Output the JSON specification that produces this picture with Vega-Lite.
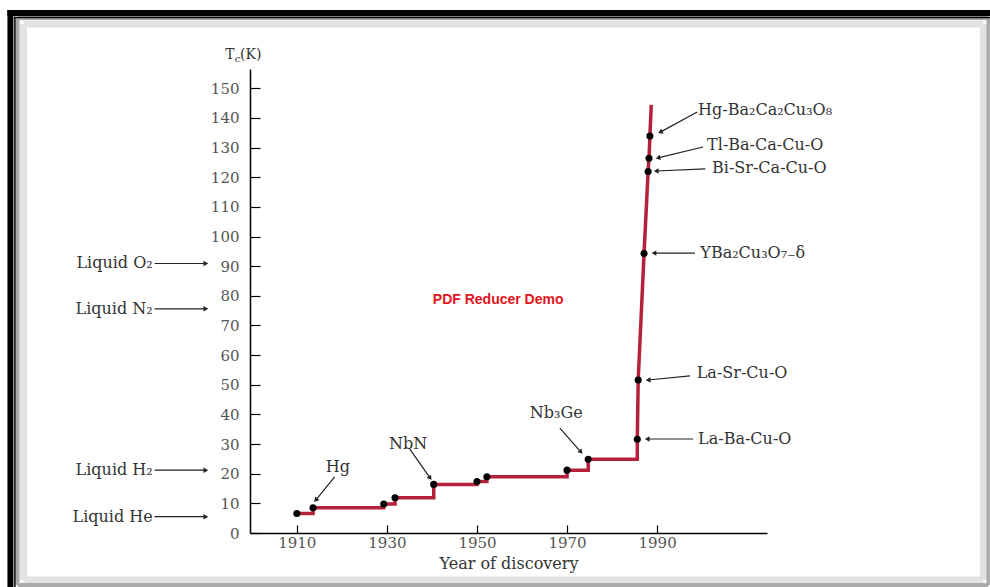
{
  "$schema": "https://vega.github.io/schema/vega-lite/v6.json",
  "width": 517,
  "height": 464,
  "autosize": {"type": "none"},
  "padding": {"left": 250, "top": 69, "right": 223, "bottom": 54},
  "background": "white",
  "config": {"view": {"stroke": null}, "font": "DejaVu Serif"},
  "datasets": {
    "tc": [
      {"x": 1910.0, "y": 6.6, "dot": true},
      {"x": 1913.6, "y": 8.5, "dot": true},
      {"x": 1929.3, "y": 9.8, "dot": true},
      {"x": 1931.8, "y": 11.9, "dot": true},
      {"x": 1940.4, "y": 16.4, "dot": true},
      {"x": 1950.0, "y": 17.4, "dot": true},
      {"x": 1952.2, "y": 19.0, "dot": true},
      {"x": 1970.0, "y": 21.2, "dot": true},
      {"x": 1974.7, "y": 24.9, "dot": true},
      {"x": 1985.6, "y": 31.6, "dot": true},
      {"x": 1985.8, "y": 51.6, "dot": true},
      {"x": 1987.1, "y": 94.3, "dot": true},
      {"x": 1988.0, "y": 121.9, "dot": true},
      {"x": 1988.2, "y": 126.4, "dot": true},
      {"x": 1988.4, "y": 133.9, "dot": true},
      {"x": 1988.7, "y": 144.4, "dot": false}
    ],
    "arrows": [
      {"x": 1914.2, "y": 11.1, "x2": 1918.4, "y2": 18.9, "ang": 219},
      {"x": 1939.6, "y": 18.5, "x2": 1935.1, "y2": 28.3, "ang": 145},
      {"x": 1973.1, "y": 27.3, "x2": 1968.4, "y2": 35.4, "ang": 139},
      {"x": 1987.8, "y": 31.7, "x2": 1998.0, "y2": 31.7, "ang": 270},
      {"x": 1988.0, "y": 51.6, "x2": 1997.3, "y2": 53.0, "ang": 265},
      {"x": 1989.3, "y": 94.4, "x2": 1998.4, "y2": 94.4, "ang": 270},
      {"x": 1989.8, "y": 122.1, "x2": 2000.7, "y2": 122.8, "ang": 268},
      {"x": 1990.2, "y": 126.5, "x2": 2000.2, "y2": 130.2, "ang": 256},
      {"x": 1990.7, "y": 135.2, "x2": 1998.9, "y2": 142.0, "ang": 242},
      {"x": 1889.8, "y": 90.9, "x2": 1878.4, "y2": 90.9, "ang": 90},
      {"x": 1889.8, "y": 75.6, "x2": 1878.4, "y2": 75.6, "ang": 90},
      {"x": 1889.8, "y": 21.2, "x2": 1878.4, "y2": 21.2, "ang": 90},
      {"x": 1889.8, "y": 5.5, "x2": 1878.4, "y2": 5.5, "ang": 90}
    ],
    "frameOuter": [
      {"x": 1846.4, "y": 175.4, "x2": 2068.4, "y2": 175.4},
      {"x": 1846.4, "y": 175.4, "x2": 1846.4, "y2": -22.6}
    ],
    "frameInner": [
      {"x": 1847.4, "y": 173.9, "x2": 2068.4, "y2": 173.9},
      {"x": 1847.4, "y": 173.9, "x2": 1847.4, "y2": -22.6}
    ],
    "shadeDark": [
      {"x": 1848.0, "y": 173.69, "x2": 2063.56, "y2": 173.69},
      {"x": 1848.0, "y": -17.54, "x2": 2063.56, "y2": -17.54},
      {"x": 1848.0, "y": 173.69, "x2": 1848.0, "y2": -17.54},
      {"x": 2063.56, "y": 173.69, "x2": 2063.56, "y2": -17.54}
    ],
    "shadeLight": [
      {"x": 1849.33, "y": 171.67, "x2": 2062.44, "y2": 171.67},
      {"x": 1849.33, "y": -15.85, "x2": 2062.44, "y2": -15.85},
      {"x": 1849.33, "y": 171.67, "x2": 1849.33, "y2": -15.85},
      {"x": 2062.44, "y": 171.67, "x2": 2062.44, "y2": -15.85}
    ],
    "labelsCenter": [
      {"x": 1919.1, "y": 22.4, "t": "Hg"},
      {"x": 1934.7, "y": 30.0, "t": "NbN"},
      {"x": 1967.6, "y": 40.5, "t": "Nb₃Ge"}
    ],
    "labelsLeft": [
      {"x": 1999.1, "y": 142.7, "t": "Hg-Ba₂Ca₂Cu₃O₈"},
      {"x": 2001.1, "y": 130.9, "t": "Tl-Ba-Ca-Cu-O"},
      {"x": 2002.2, "y": 123.1, "t": "Bi-Sr-Ca-Cu-O"},
      {"x": 1999.6, "y": 94.3, "t": "YBa₂Cu₃O₇₋δ"},
      {"x": 1998.8, "y": 53.9, "t": "La-Sr-Cu-O"},
      {"x": 1999.1, "y": 31.7, "t": "La-Ba-Cu-O"}
    ],
    "labelsRight": [
      {"x": 1878.0, "y": 90.9, "t": "Liquid O₂"},
      {"x": 1878.0, "y": 75.6, "t": "Liquid N₂"},
      {"x": 1878.0, "y": 21.2, "t": "Liquid H₂"},
      {"x": 1878.0, "y": 5.5, "t": "Liquid He"}
    ]
  },
  "encoding": {
    "x": {
      "field": "x",
      "type": "quantitative",
      "scale": {"domain": [1899.6, 2014.4], "nice": false, "zero": false},
      "axis": {
        "title": "Year of discovery",
        "values": [1910, 1930, 1950, 1970, 1990],
        "format": "d",
        "grid": false,
        "tickSize": -8,
        "labelPadding": 10,
        "domainColor": "black",
        "domainWidth": 1.5,
        "tickColor": "black",
        "tickWidth": 1.2,
        "labelFont": "DejaVu Serif",
        "labelFontSize": 15,
        "labelColor": "#555555",
        "titleFont": "DejaVu Serif",
        "titleFontSize": 16,
        "titleFontWeight": "normal",
        "titleColor": "#333333",
        "titlePadding": 5
      }
    },
    "y": {
      "field": "y",
      "type": "quantitative",
      "scale": {"domain": [0, 156.5], "nice": false, "zero": false},
      "axis": {
        "title": null,
        "values": [0, 10, 20, 30, 40, 50, 60, 70, 80, 90, 100, 110, 120, 130, 140, 150],
        "grid": false,
        "tickSize": -10,
        "labelPadding": 21,
        "domainColor": "black",
        "domainWidth": 1.5,
        "tickColor": "black",
        "tickWidth": 1.2,
        "labelFont": "DejaVu Serif",
        "labelFontSize": 15,
        "labelColor": "#555555"
      }
    }
  },
  "layer": [
    {
      "data": {"name": "shadeLight"},
      "mark": {"type": "rule", "color": "#e2e2e2", "strokeWidth": 7, "clip": false},
      "encoding": {"x2": {"field": "x2"}, "y2": {"field": "y2"}}
    },
    {
      "data": {"name": "shadeDark"},
      "mark": {"type": "rule", "color": "#ababab", "strokeWidth": 4, "clip": false},
      "encoding": {"x2": {"field": "x2"}, "y2": {"field": "y2"}}
    },
    {
      "data": {"name": "frameInner"},
      "mark": {"type": "rule", "color": "black", "strokeWidth": 1.5, "strokeCap": "square", "clip": false},
      "encoding": {"x2": {"field": "x2"}, "y2": {"field": "y2"}}
    },
    {
      "data": {"name": "frameOuter"},
      "mark": {"type": "rule", "color": "black", "strokeWidth": 6, "strokeCap": "square", "clip": false},
      "encoding": {"x2": {"field": "x2"}, "y2": {"field": "y2"}}
    },
    {
      "data": {"name": "tc"},
      "transform": [{"filter": "datum.x <= 1985.6"}],
      "mark": {"type": "line", "interpolate": "step-after", "color": "#b5203a", "strokeWidth": 3.5, "clip": false},
      "encoding": {}
    },
    {
      "data": {"name": "tc"},
      "transform": [{"filter": "datum.x >= 1985.6"}],
      "mark": {"type": "line", "interpolate": "linear", "color": "#b5203a", "strokeWidth": 3.5, "clip": false},
      "encoding": {}
    },
    {
      "data": {"name": "tc"},
      "transform": [{"filter": "datum.dot"}],
      "mark": {"type": "circle", "color": "black", "size": 50, "opacity": 1, "clip": false},
      "encoding": {}
    },
    {
      "data": {"name": "arrows"},
      "mark": {"type": "rule", "color": "#222222", "strokeWidth": 1.2, "clip": false},
      "encoding": {
        "x2": {"field": "x2"},
        "y2": {"field": "y2"}
      }
    },
    {
      "data": {"name": "arrows"},
      "mark": {"type": "point", "shape": "triangle-up", "filled": true, "color": "#222222", "size": 30, "opacity": 1, "clip": false},
      "encoding": {
        "angle": {"field": "ang", "type": "quantitative", "scale": null}
      }
    },
    {
      "data": {"name": "labelsCenter"},
      "mark": {"type": "text", "align": "center", "baseline": "middle", "font": "DejaVu Serif", "fontSize": 16, "color": "#333333", "clip": false},
      "encoding": {"text": {"field": "t"}}
    },
    {
      "data": {"name": "labelsLeft"},
      "mark": {"type": "text", "align": "left", "baseline": "middle", "font": "DejaVu Serif", "fontSize": 16, "color": "#333333", "clip": false},
      "encoding": {"text": {"field": "t"}}
    },
    {
      "data": {"name": "labelsRight"},
      "mark": {"type": "text", "align": "right", "baseline": "middle", "font": "DejaVu Serif", "fontSize": 16, "color": "#333333", "clip": false},
      "encoding": {"text": {"field": "t"}}
    },
    {
      "data": {"values": [{"x": 1896.2, "y": 161.2, "t": "T"}]},
      "mark": {"type": "text", "align": "right", "baseline": "middle", "font": "DejaVu Serif", "fontSize": 14, "color": "#333333", "clip": false},
      "encoding": {"text": {"field": "t"}}
    },
    {
      "data": {"values": [{"x": 1896.2, "y": 161.2, "t": "c"}]},
      "mark": {"type": "text", "align": "left", "baseline": "middle", "dy": 4, "font": "DejaVu Serif", "fontSize": 10, "fontStyle": "italic", "color": "#333333", "clip": false},
      "encoding": {"text": {"field": "t"}}
    },
    {
      "data": {"values": [{"x": 1897.4, "y": 161.2, "t": "(K)"}]},
      "mark": {"type": "text", "align": "left", "baseline": "middle", "font": "DejaVu Serif", "fontSize": 14, "color": "#333333", "clip": false},
      "encoding": {"text": {"field": "t"}}
    },
    {
      "data": {"values": [{"x": 1954.7, "y": 78.6, "t": "PDF Reducer Demo"}]},
      "mark": {"type": "text", "align": "center", "baseline": "middle", "font": "Liberation Sans", "fontSize": 14, "fontWeight": "bold", "color": "#e3141b", "clip": false},
      "encoding": {"text": {"field": "t"}}
    }
  ]
}
